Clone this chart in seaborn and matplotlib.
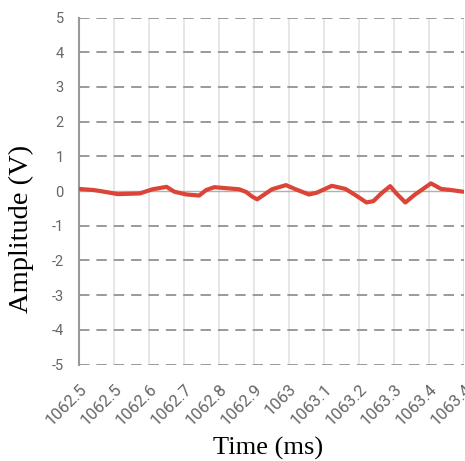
import matplotlib
matplotlib.use("Agg")
import matplotlib.pyplot as plt
import seaborn as sns
import numpy as np

# signal trace
time_ms = [1062.460, 1062.496, 1062.514, 1062.560, 1062.616, 1062.649, 1062.685,
           1062.705, 1062.736, 1062.769, 1062.787, 1062.808, 1062.872, 1062.890,
           1062.905, 1062.918, 1062.956, 1062.992, 1063.017, 1063.051, 1063.071,
           1063.110, 1063.145, 1063.171, 1063.199, 1063.217, 1063.237, 1063.260,
           1063.276, 1063.299, 1063.324, 1063.365, 1063.391, 1063.416, 1063.447]
amplitude_v = [0.06, 0.03, 0.00, -0.09, -0.07, 0.05, 0.12,
               -0.02, -0.10, -0.13, 0.03, 0.11, 0.05, -0.03,
               -0.16, -0.24, 0.05, 0.17, 0.05, -0.10, -0.05,
               0.15, 0.06, -0.12, -0.33, -0.29, -0.07, 0.14,
               -0.07, -0.33, -0.10, 0.22, 0.06, 0.03, -0.02]

tick_times = [1062.46, 1062.55, 1062.64, 1062.73, 1062.82, 1062.91,
              1063.00, 1063.09, 1063.18, 1063.27, 1063.36, 1063.45]
tick_labels = ["1062.5", "1062.5", "1062.6", "1062.7", "1062.8", "1062.9",
               "1063", "1063.1", "1063.2", "1063.3", "1063.4", "1063.4"]
y_ticks = [-5, -4, -3, -2, -1, 0, 1, 2, 3, 4, 5]

sns.set_style("white")
plt.rcParams['font.family'] = ['Roboto', 'DejaVu Sans']
plt.rcParams['lines.scale_dashes'] = False

fig = plt.figure(figsize=(4.65, 4.61), dpi=100)
ax = fig.add_axes([0.170, 0.2093, 0.828, 0.7527])

sns.lineplot(x=time_ms, y=amplitude_v, color="#db4437", linewidth=3.0, ax=ax, zorder=5)

ax.set_xlim(tick_times[0], tick_times[-1])
ax.set_ylim(-5, 5)
ax.set_xticks(tick_times)
ax.set_xticklabels(tick_labels, rotation=45, ha="right", rotation_mode="anchor")
ax.set_yticks(y_ticks)
ax.set_yticklabels([str(v) for v in y_ticks])

ax.xaxis.grid(True, color="#e3e3e3", linewidth=1.2, linestyle="-")
ax.yaxis.grid(True, color="#9a9a9a", linewidth=1.4, linestyle=(0, (7.5, 5)))
ax.set_axisbelow(True)
# zero line drawn solid
zero_line = ax.get_ygridlines()[y_ticks.index(0)]
zero_line.set_linestyle("-")
zero_line.set_color("#b0b0b0")
zero_line.set_linewidth(1.0)

for side in ["top", "right", "bottom"]:
    ax.spines[side].set_visible(False)
ax.spines["left"].set_color("#999999")
ax.spines["left"].set_linewidth(1.5)

ax.tick_params(axis="y", length=10, width=1.2, color="#999999", pad=1,
               labelsize=10.5, labelcolor="#666666")
ax.tick_params(axis="x", length=9, width=1.2, color="#e3e3e3", pad=3,
               labelsize=12, labelcolor="#666666")

ax.set_xlabel("Time (ms)", family="Liberation Serif", fontsize=19, color="black")
ax.set_ylabel("Amplitude (V)", family="Liberation Serif", fontsize=20.5, color="black")
ax.xaxis.set_label_coords(0.49, -0.21)
ax.yaxis.set_label_coords(-0.118, 0.392)

fig.savefig("out.png", dpi=100)
